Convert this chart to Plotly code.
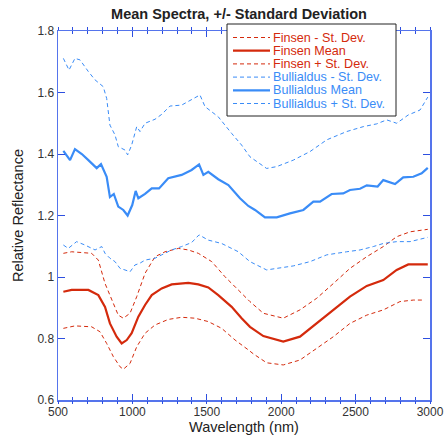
import plotly.graph_objects as go

# ---------------- data ----------------
bull_mean_x = [536, 581, 614, 660, 704, 760, 789, 827, 849, 875, 905, 939, 968, 999, 1022, 1040,
               1085, 1130, 1179, 1241, 1331, 1398, 1448, 1477, 1510, 1577, 1645, 1723, 1779,
               1824, 1891, 1970, 2059, 2149, 2216, 2261, 2339, 2417, 2462, 2530, 2575, 2648,
               2686, 2765, 2820, 2888, 2944, 2985]
bull_mean_y = [1.41, 1.38, 1.416, 1.40, 1.38, 1.354, 1.367, 1.326, 1.26, 1.27, 1.229, 1.218, 1.20,
               1.234, 1.28, 1.256, 1.27, 1.288, 1.288, 1.321, 1.332, 1.348, 1.366, 1.332, 1.342,
               1.318, 1.299, 1.256, 1.231, 1.218, 1.194, 1.194, 1.207, 1.218, 1.245, 1.245,
               1.27, 1.272, 1.283, 1.287, 1.298, 1.294, 1.315, 1.302, 1.324, 1.326, 1.337, 1.355]

bull_plus_x = [536, 574, 614, 648, 704, 749, 804, 827, 849, 883, 905, 950, 968, 995, 1029, 1051,
               1085, 1152, 1197, 1253, 1331, 1398, 1454, 1488, 1577, 1667, 1734, 1790, 1902,
               1970, 2081, 2194, 2306, 2440, 2552, 2642, 2709, 2776, 2854, 2933, 2985]
bull_plus_y = [1.711, 1.673, 1.711, 1.706, 1.668, 1.641, 1.619, 1.581, 1.494, 1.462, 1.424, 1.413,
               1.397, 1.429, 1.489, 1.473, 1.50, 1.513, 1.529, 1.556, 1.559, 1.576, 1.592, 1.554,
               1.521, 1.467, 1.429, 1.391, 1.353, 1.359, 1.38, 1.408, 1.446, 1.473, 1.489, 1.498,
               1.511, 1.50, 1.527, 1.543, 1.585]

bull_minus_x = [536, 569, 625, 681, 749, 794, 816, 849, 883, 917, 950, 984, 1017, 1051, 1085,
                1152, 1197, 1264, 1331, 1398, 1448, 1510, 1600, 1712, 1790, 1902, 1970, 2081,
                2194, 2306, 2440, 2530, 2619, 2686, 2776, 2866, 2985]
bull_minus_y = [1.104, 1.093, 1.115, 1.104, 1.088, 1.099, 1.077, 1.061, 1.05, 1.028, 1.023, 1.017,
                1.039, 1.045, 1.055, 1.061, 1.072, 1.088, 1.099, 1.112, 1.137, 1.12, 1.109, 1.082,
                1.05, 1.023, 1.028, 1.036, 1.05, 1.072, 1.082, 1.088, 1.099, 1.109, 1.115, 1.115,
                1.129]

fin_mean_x = [536, 592, 704, 771, 816, 849, 894, 928, 962, 995, 1040, 1085, 1130, 1197, 1264,
              1376, 1443, 1510, 1577, 1667, 1734, 1790, 1880, 2014, 2126, 2239, 2351, 2462,
              2575, 2686, 2776, 2854, 2985]
fin_mean_y = [0.952, 0.958, 0.958, 0.941, 0.903, 0.849, 0.806, 0.784, 0.795, 0.817, 0.871, 0.909,
              0.941, 0.963, 0.976, 0.981, 0.976, 0.966, 0.941, 0.903, 0.866, 0.838, 0.808, 0.79,
              0.806, 0.849, 0.893, 0.936, 0.971, 0.99, 1.023, 1.041, 1.041]

fin_plus_x = [536, 592, 726, 771, 816, 861, 905, 939, 984, 1029, 1085, 1152, 1219, 1309, 1376,
              1443, 1533, 1622, 1712, 1790, 1880, 2014, 2126, 2239, 2351, 2462, 2575, 2686,
              2776, 2866, 2985]
fin_plus_y = [1.077, 1.082, 1.077, 1.055, 0.979, 0.925, 0.876, 0.866, 0.882, 0.936, 1.012, 1.066,
              1.082, 1.093, 1.088, 1.077, 1.05, 1.001, 0.958, 0.92, 0.882, 0.866, 0.893, 0.931,
              0.979, 1.028, 1.066, 1.099, 1.131, 1.147, 1.155]

fin_minus_x = [536, 614, 726, 782, 827, 872, 917, 939, 984, 1029, 1085, 1152, 1241, 1331, 1421,
               1510, 1600, 1690, 1779, 1813, 1902, 2014, 2126, 2239, 2351, 2462, 2575, 2686,
               2798, 2888, 2950]
fin_minus_y = [0.833, 0.841, 0.838, 0.822, 0.784, 0.741, 0.708, 0.70, 0.719, 0.773, 0.817, 0.844,
               0.862, 0.869, 0.866, 0.855, 0.833, 0.795, 0.763, 0.75, 0.721, 0.714, 0.73, 0.768,
               0.806, 0.849, 0.876, 0.893, 0.92, 0.925, 0.925]

legend_labels = ["Finsen - St. Dev.", "Finsen Mean", "Finsen + St. Dev.",
                 "Bullialdus - St. Dev.", "Bullialdus Mean", "Bullialdus + St. Dev."]
x_ticks = [500, 1000, 1500, 2000, 2500, 3000]
y_ticks = [0.6, 0.8, 1.0, 1.2, 1.4, 1.6, 1.8]
y_ticktext = ["0.6", "0.8", "1", "1.2", "1.4", "1.6", "1.8"]
x_range = [500, 3000]
y_range = [0.6, 1.8]

# ---------------- styling ----------------
RED = "#D42A0C"
BLUE = "#3A8CF7"
AXIS_LINE = "#5574EC"
AXIS_TICK = "#2D4FE0"
DASH = "4px,3px"
FONT = "Liberation Sans, Arial, sans-serif"

W, H = 444, 437
L, R, T, B = 58, 14, 31, 37
PW, PH = W - L - R, H - T - B

def px_x(px):
    return (px - L) / PW

def px_y(py):
    return (H - B - py) / PH

series = [
    (fin_minus_x, fin_minus_y, RED, 1, DASH),
    (fin_mean_x, fin_mean_y, RED, 2.2, "solid"),
    (fin_plus_x, fin_plus_y, RED, 1, DASH),
    (bull_minus_x, bull_minus_y, BLUE, 1, DASH),
    (bull_mean_x, bull_mean_y, BLUE, 2.2, "solid"),
    (bull_plus_x, bull_plus_y, BLUE, 1, DASH),
]

fig = go.Figure()
for (xs, ys, col, wd, ds), name in zip(series, legend_labels):
    fig.add_trace(go.Scatter(x=xs, y=ys, mode="lines", name=name, showlegend=False,
                             hoverinfo="skip", line=dict(color=col, width=wd, dash=ds)))
# empty trace that only carries the overlaid tick axis (outer half of crossing minor ticks)
fig.add_trace(go.Scatter(x=[], y=[], xaxis="x2", yaxis="y", showlegend=False, hoverinfo="skip"))

# manual legend (box, samples, labels)
shapes = [dict(type="rect", xref="paper", yref="paper", layer="above",
               x0=px_x(227), x1=px_x(396), y0=px_y(116), y1=px_y(24),
               line=dict(color="#222222", width=1), fillcolor="white")]
annotations = []
rows = [37.5, 50.7, 63.9, 77.1, 90.3, 103.5]
for (xs, ys, col, wd, ds), name, ry in zip(series, legend_labels, rows):
    shapes.append(dict(type="line", xref="paper", yref="paper", layer="above",
                       x0=px_x(233), x1=px_x(270), y0=px_y(ry), y1=px_y(ry),
                       line=dict(color=col, width=wd, dash=ds)))
    annotations.append(dict(xref="paper", yref="paper", x=px_x(271), y=px_y(ry),
                            xanchor="left", yanchor="middle", showarrow=False,
                            text=name, font=dict(family=FONT, size=12.6, color=col)))

fig.update_layout(
    template="none",
    width=W, height=H, autosize=False,
    margin=dict(l=L, r=R, t=T, b=B, pad=0),
    paper_bgcolor="white", plot_bgcolor="white",
    font=dict(family=FONT, size=12, color="#333333"),
    title=dict(text="<b>Mean Spectra, +/- Standard Deviation</b>",
               x=px_x(239), xref="paper", xanchor="center",
               y=1 - 14 / H, yref="container", yanchor="middle",
               font=dict(family=FONT, size=14.5, color="#222222")),
    shapes=shapes, annotations=annotations,
    showlegend=False,
    xaxis=dict(range=x_range, tickvals=x_ticks, ticks="inside", ticklen=6,
               tickcolor=AXIS_TICK, tickwidth=1, showline=True, linecolor=AXIS_LINE, linewidth=1.5,
               mirror="ticks", showgrid=False, zeroline=False, automargin=False,
               minor=dict(dtick=100, tick0=500, ticks="inside", ticklen=3, tickwidth=1,
                          tickcolor=AXIS_TICK, showgrid=False),
               tickfont=dict(size=12, color="#333333"),
               title=dict(text="Wavelength (nm)", font=dict(size=14.5, color="#222222"), standoff=2)),
    xaxis2=dict(overlaying="x", anchor="y", side="bottom", range=x_range, dtick=100, tick0=500,
                ticks="outside", ticklen=3, tickwidth=1, tickcolor=AXIS_TICK,
                showticklabels=False, showline=False, mirror="ticks", showgrid=False,
                zeroline=False, automargin=False),
    yaxis=dict(range=y_range, tickvals=y_ticks, ticktext=y_ticktext, ticks="inside", ticklen=7,
               tickcolor=AXIS_TICK, tickwidth=1, showline=True, linecolor=AXIS_LINE, linewidth=1.5,
               mirror="ticks", showgrid=False, zeroline=False, automargin=False,
               tickfont=dict(size=12, color="#333333"),
               title=dict(text="Relative Reflectance", font=dict(size=14.5, color="#222222"), standoff=10)),
)

fig.write_html("out.html", config={"displayModeBar": False, "staticPlot": True},
               post_script="document.body.style.margin='0px';")
